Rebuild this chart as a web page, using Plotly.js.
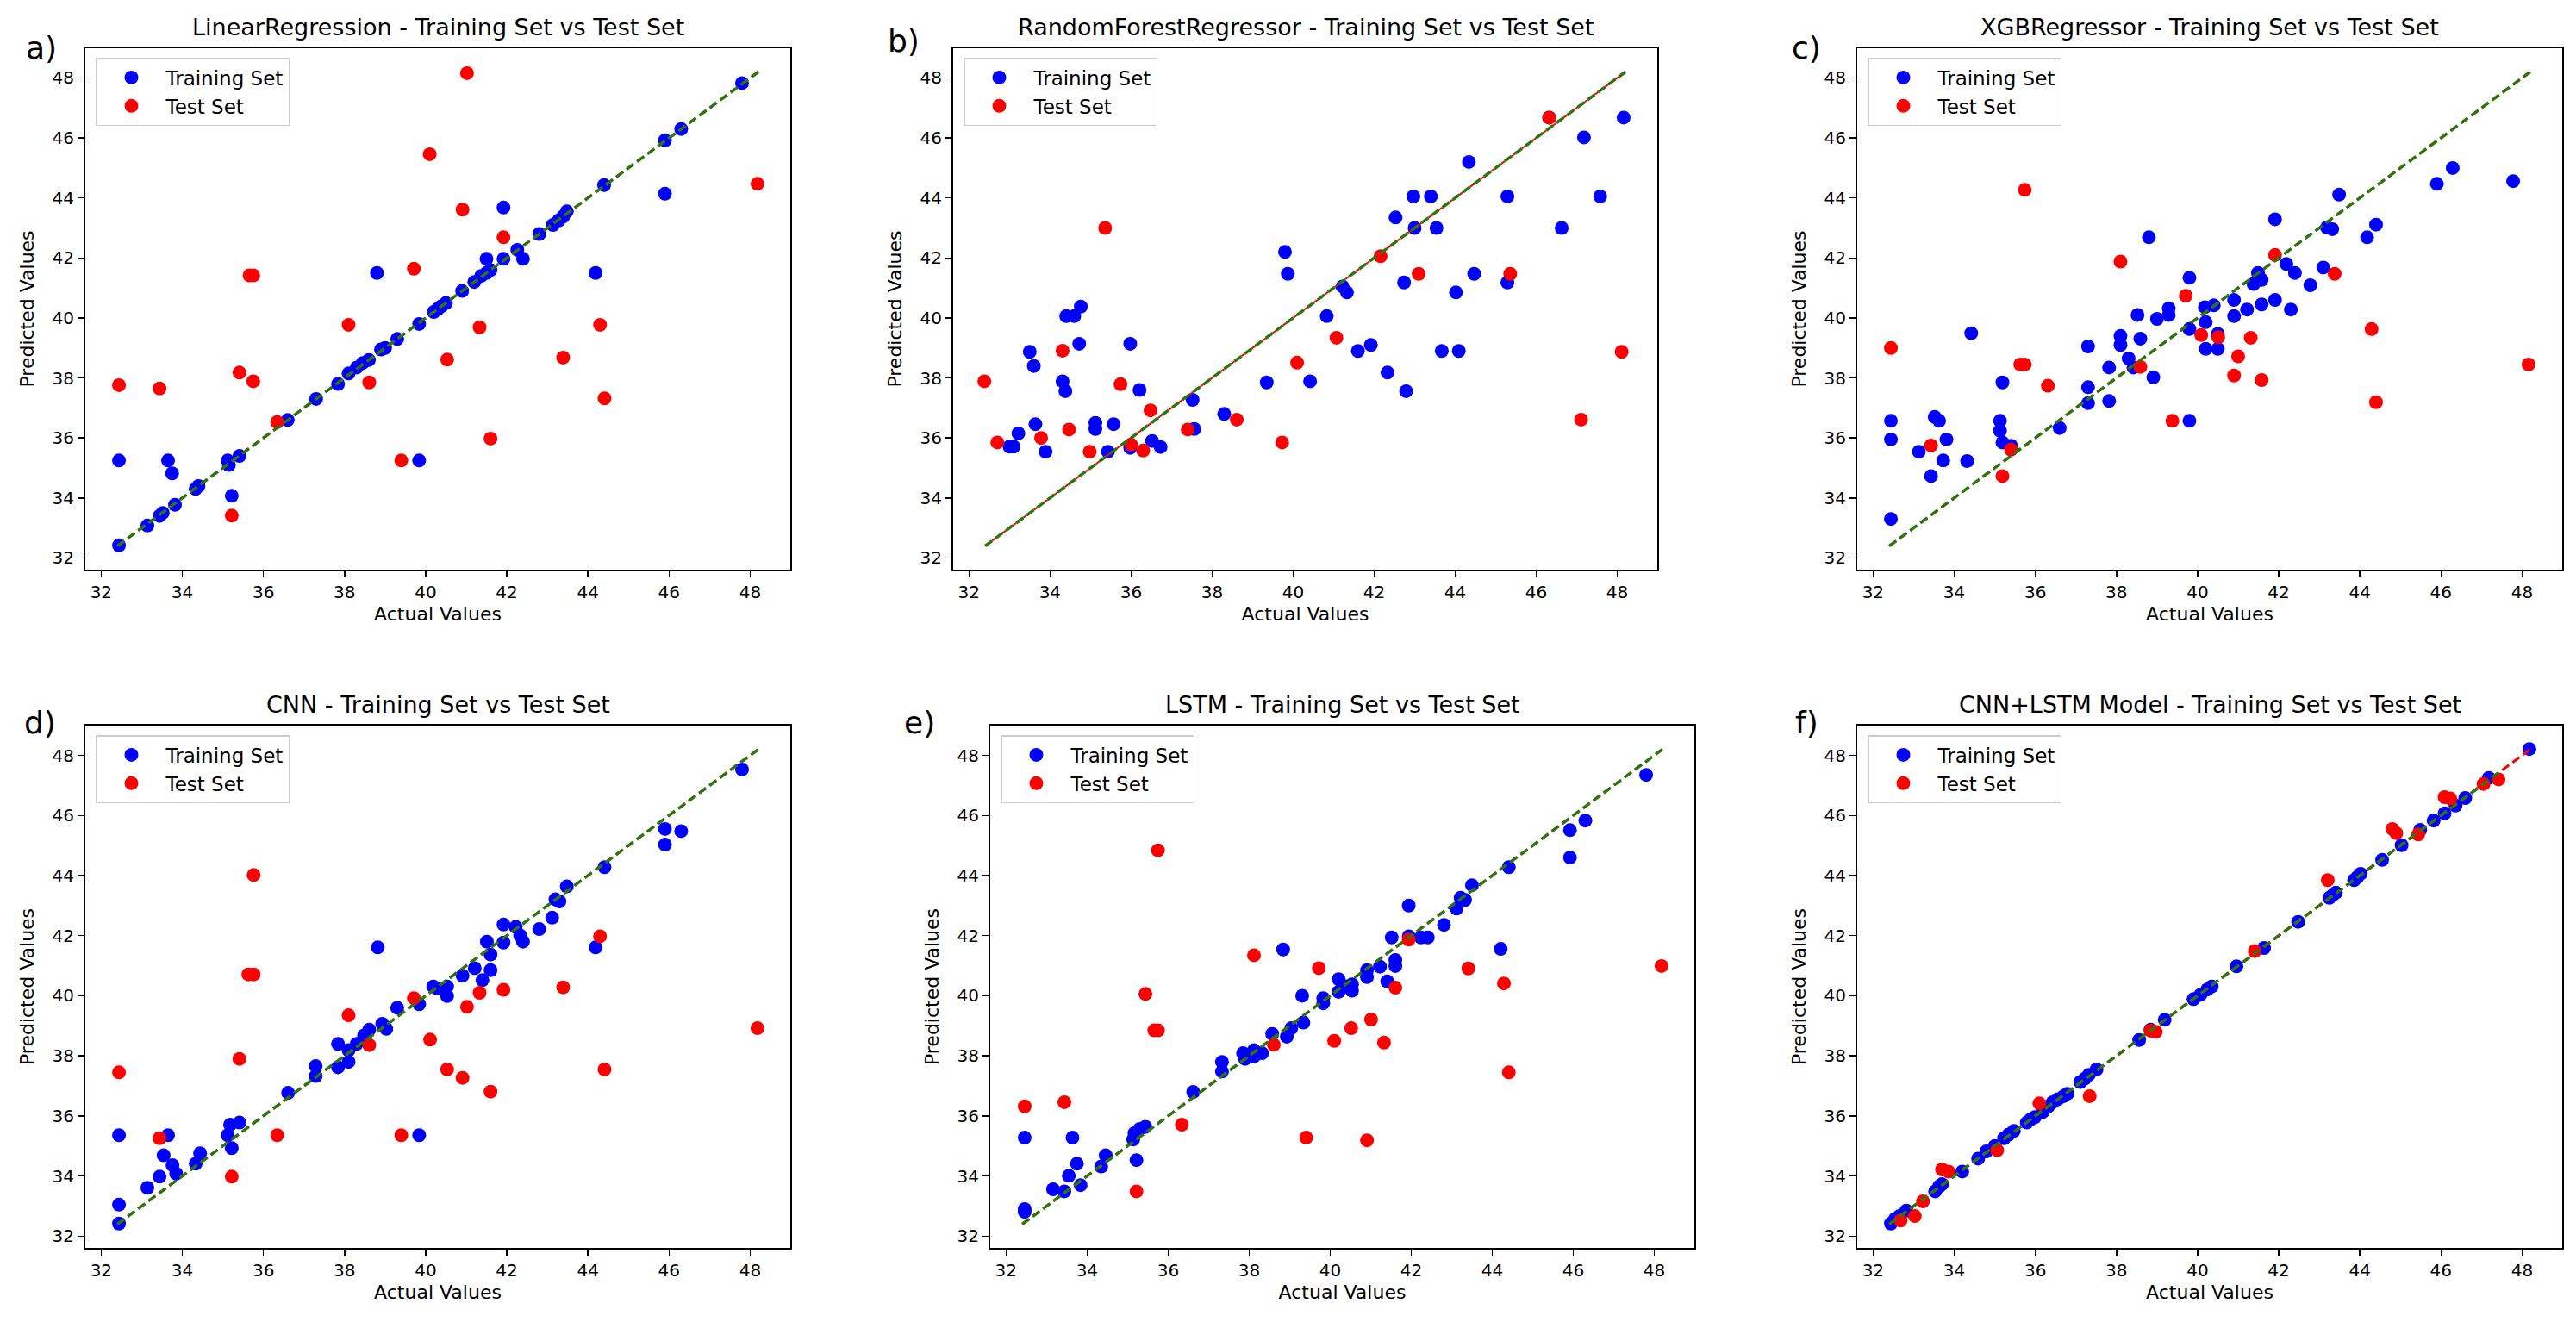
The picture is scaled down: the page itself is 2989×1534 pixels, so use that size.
<!DOCTYPE html>
<html>
<head>
<meta charset="utf-8">
<script src="https://cdn.plot.ly/plotly-3.0.1.min.js"></script>
<style>
  html, body { margin: 0; padding: 0; background: #fff; }
  #chart { width: 2989px; height: 1534px; }
</style>
</head>
<body>
<div id="chart"></div>
<script>
// ---- data (actual vs predicted) ----

// a) LinearRegression
const lr_train_actual = [32.44,32.44,33.14,33.44,33.52,33.65,33.75,33.82,34.33,34.40,35.12,35.15,35.22,35.41,36.60,37.30,37.84,38.10,38.30,38.45,38.60,38.80,38.90,39.00,39.30,39.84,39.84,40.20,40.30,40.40,40.50,40.90,41.20,41.37,41.50,41.60,41.50,41.92,41.92,42.26,42.40,42.80,43.14,43.28,43.39,43.48,44.19,44.40,45.90,45.90,46.30,47.80];
const lr_train_pred   = [32.42,35.25,33.08,33.40,33.50,35.25,34.82,33.77,34.30,34.40,35.25,35.10,34.07,35.40,36.60,37.30,37.80,38.15,38.35,38.50,38.60,41.50,38.95,39.00,39.30,39.80,35.25,40.20,40.30,40.40,40.50,40.90,41.20,41.40,41.50,41.60,41.97,43.68,41.97,42.27,41.97,42.80,43.10,43.25,43.38,43.55,41.50,44.43,44.14,45.92,46.30,47.83];
const lr_test_actual  = [32.44,33.44,35.22,35.41,35.66,35.75,35.75,36.34,38.10,38.61,39.40,39.71,40.10,40.53,40.91,41.02,41.33,41.60,41.92,43.39,44.30,44.41,48.18];
const lr_test_pred    = [37.76,37.65,33.41,38.18,41.42,41.42,37.89,36.53,39.77,37.85,35.25,41.64,45.46,38.61,43.61,48.16,39.69,35.98,42.69,38.68,39.77,37.32,44.47];

// b) RandomForestRegressor
const rf_train_actual = [33.00,33.10,33.22,33.50,33.64,33.60,33.89,34.31,34.38,34.40,34.60,34.76,34.72,35.12,35.12,35.43,35.57,35.98,35.98,36.21,36.52,36.73,37.52,37.56,38.30,39.35,39.80,39.87,40.42,40.83,41.22,41.33,41.60,41.92,42.33,42.53,42.74,42.79,42.97,43.00,43.40,43.54,43.67,44.02,44.09,44.34,44.47,45.29,45.29,46.32,46.63,47.18,47.58,48.16];
const rf_train_pred   = [35.71,35.71,36.15,38.87,36.46,38.40,35.54,37.89,37.56,40.06,40.06,40.38,39.14,36.50,36.30,35.54,36.46,35.67,39.14,37.60,35.90,35.70,37.27,36.30,36.80,37.85,42.20,41.47,37.89,40.06,41.05,40.85,38.90,39.10,38.18,43.35,41.18,37.56,44.05,43.00,44.05,43.00,38.90,40.85,38.90,45.20,41.47,44.05,41.18,46.68,43.00,46.02,44.05,46.68];
const rf_test_actual  = [32.38,32.70,33.78,34.31,34.47,34.98,35.36,35.74,36.00,36.30,36.48,37.40,38.61,39.73,40.10,41.07,42.16,43.10,45.36,46.32,47.11,48.11];
const rf_test_pred    = [37.89,35.85,36.00,38.91,36.28,35.54,43.00,37.79,35.78,35.58,36.92,36.28,36.61,35.85,38.51,39.34,42.06,41.47,41.47,46.68,36.61,38.87];

// c) XGBRegressor
const xgb_train_actual = [32.44,32.44,32.44,33.13,33.43,33.52,33.63,33.73,33.81,34.32,34.42,35.13,35.13,35.19,35.19,35.40,36.60,37.30,37.30,37.30,37.82,37.82,38.10,38.10,38.30,38.42,38.52,38.59,38.80,38.91,39.00,39.29,39.29,39.80,39.80,39.80,40.18,40.40,40.20,40.20,40.50,40.50,40.90,40.90,41.22,41.38,41.49,41.58,41.58,41.91,41.91,42.19,42.30,42.40,42.78,43.10,43.19,43.32,43.49,44.18,44.40,45.90,46.29,47.78];
const xgb_train_pred   = [33.30,36.57,35.95,35.54,34.73,36.70,36.57,35.25,35.95,35.23,39.49,36.57,36.24,37.85,35.85,35.74,36.33,39.05,37.69,37.16,38.35,37.23,39.40,39.10,38.65,38.35,40.10,39.31,42.69,38.02,39.97,40.32,40.10,41.34,39.63,36.57,40.36,40.42,39.86,38.97,38.97,39.47,40.60,40.06,40.28,41.13,41.50,41.27,40.45,43.29,40.60,41.80,40.28,41.50,41.09,41.68,43.02,42.96,44.11,42.69,43.11,44.47,45.00,44.56];
const xgb_test_actual  = [32.44,33.43,35.19,35.40,35.63,35.74,35.74,36.31,38.10,38.59,39.38,39.71,40.09,40.51,40.90,41.00,41.31,41.58,41.91,43.38,44.29,44.40,48.16];
const xgb_test_pred    = [39.00,35.75,34.73,35.61,38.45,38.45,44.27,37.74,41.88,38.37,36.57,40.74,39.43,39.36,38.08,38.72,39.34,37.93,42.10,41.47,39.63,37.19,38.45];

// d) CNN
const cnn_train_actual = [32.44,32.44,32.44,33.14,33.44,33.54,33.65,33.76,33.85,34.33,34.44,35.12,35.18,35.22,35.41,36.61,37.29,37.29,37.84,37.84,38.10,38.10,38.30,38.48,38.61,38.82,38.93,39.03,39.30,39.84,39.84,40.19,40.29,40.53,40.53,40.91,41.21,41.40,41.51,41.60,41.60,41.92,41.92,42.22,42.33,42.40,42.80,43.12,43.20,43.30,43.48,44.19,44.41,45.90,45.90,46.30,47.80];
const cnn_train_pred   = [32.42,33.05,35.36,33.61,33.98,34.69,35.36,34.36,34.08,34.41,34.76,35.36,35.71,34.93,35.78,36.77,37.66,37.33,38.40,37.62,37.80,38.19,38.40,38.68,38.87,41.61,39.07,38.90,39.60,39.72,35.36,40.31,40.24,40.31,39.99,40.67,40.92,40.52,41.80,41.37,40.85,42.37,41.77,42.29,42.01,41.80,42.22,42.60,43.21,43.14,43.64,41.61,44.28,45.55,45.03,45.48,47.53];
const cnn_test_actual  = [32.44,33.44,35.22,35.41,35.63,35.76,35.76,36.34,38.10,38.61,39.40,39.71,40.11,40.53,40.91,41.02,41.33,41.60,41.92,43.39,44.30,44.41,48.18];
const cnn_test_pred    = [37.45,35.26,33.98,37.90,40.71,40.71,44.02,35.36,39.35,38.36,35.36,39.92,38.54,37.55,37.27,39.63,40.10,36.81,40.20,40.28,41.98,37.55,38.92];

// e) LSTM
const lstm_train_actual = [32.46,32.46,32.46,33.16,33.44,33.55,33.64,33.75,33.84,34.35,34.46,35.14,35.17,35.22,35.30,35.44,36.62,37.33,37.33,37.85,37.90,38.12,38.12,38.32,38.57,38.84,38.93,39.04,39.31,39.34,39.83,39.83,40.21,40.21,40.40,40.54,40.54,40.91,40.91,41.23,41.41,41.52,41.61,41.61,41.94,41.94,42.24,42.41,42.81,43.12,43.22,43.33,43.50,44.21,44.41,45.92,45.92,46.30,47.80];
const lstm_train_pred   = [32.81,32.90,35.28,33.56,33.49,34.01,35.28,34.41,33.70,34.32,34.69,35.22,35.43,34.53,35.57,35.64,36.80,37.80,37.48,38.09,37.90,38.19,37.98,38.09,38.73,41.54,38.64,38.92,40.00,39.11,39.92,39.75,40.55,40.13,40.31,40.38,40.17,40.85,40.62,40.97,40.48,41.94,41.19,40.99,43.00,41.98,41.94,41.94,42.36,42.90,43.26,43.19,43.68,41.56,44.28,45.51,44.60,45.83,47.35];
const lstm_test_actual  = [32.46,33.44,35.22,35.44,35.66,35.75,35.75,36.34,38.12,38.61,39.41,39.72,40.10,40.52,40.91,41.01,41.33,41.61,41.94,43.41,44.29,44.41,48.18];
const lstm_test_pred    = [36.32,36.46,33.49,40.06,38.85,38.85,44.84,35.71,41.35,38.37,35.28,40.92,38.50,38.92,35.19,39.21,38.44,40.27,41.87,40.91,40.41,37.45,40.99];

// f) CNN+LSTM
const hyb_train_actual = [32.44,32.54,32.65,32.82,33.53,33.63,33.70,34.20,34.59,34.79,35.00,35.23,35.34,35.47,35.79,35.88,35.99,36.18,36.32,36.43,36.56,36.70,36.79,37.11,37.22,37.32,37.51,38.56,38.84,39.19,39.90,40.07,40.24,40.35,40.96,41.64,42.48,43.25,43.34,43.41,43.86,43.94,44.02,44.55,45.03,45.49,45.82,46.09,46.36,46.60,47.18,48.18];
const hyb_train_pred   = [32.42,32.57,32.67,32.85,33.49,33.66,33.73,34.15,34.58,34.82,35.00,35.26,35.38,35.50,35.78,35.88,35.96,36.13,36.32,36.46,36.56,36.66,36.74,37.13,37.24,37.37,37.55,38.53,38.87,39.20,39.89,40.03,40.21,40.31,40.98,41.59,42.46,43.26,43.36,43.43,43.85,43.95,44.06,44.52,45.01,45.52,45.83,46.07,46.33,46.58,47.25,48.21];
const hyb_test_actual  = [32.68,33.03,33.23,33.70,33.86,35.06,36.10,37.34,38.84,38.97,41.41,43.21,44.80,44.90,45.44,46.09,46.23,47.05,47.42];
const hyb_test_pred    = [32.52,32.67,33.16,34.22,34.15,34.86,36.42,36.66,38.84,38.80,41.49,43.85,45.55,45.41,45.37,46.61,46.57,47.05,47.20];

// y = x reference lines
const ref_line = [32.4, 48.2];
const hyb_green_line = [32.4, 47.45];

const tick_values = [32, 34, 36, 38, 40, 42, 44, 46, 48];
const axis_range = [31.61, 48.99];

// ---- figure layout (pixels of the 2989x1534 page) ----
const FIG_W = 2989, FIG_H = 1534;
const FONT = 'DejaVu Sans, Verdana, sans-serif';
const BLUE = '#0000ff', RED = '#ff0000', GREEN = '#2e7512';
const GREEN_DASH = '10px,5px';

const PANELS = [
  {tag: 'a)', title: 'LinearRegression - Training Set vs Test Set',
   train: [lr_train_actual, lr_train_pred], test: [lr_test_actual, lr_test_pred],
   green: ref_line, red_dash: GREEN_DASH, red_width: 2.5,
   box: [99, 917, 56, 661], tag_at: [48, 55], title_y: 31},
  {tag: 'b)', title: 'RandomForestRegressor - Training Set vs Test Set',
   train: [rf_train_actual, rf_train_pred], test: [rf_test_actual, rf_test_pred],
   green: ref_line, red_dash: '0px,10px,5px,0px', red_width: 2,
   box: [1106, 1923, 56, 661], tag_at: [1048, 47], title_y: 31},
  {tag: 'c)', title: 'XGBRegressor - Training Set vs Test Set',
   train: [xgb_train_actual, xgb_train_pred], test: [xgb_test_actual, xgb_test_pred],
   green: ref_line, red_dash: GREEN_DASH, red_width: 2.5,
   box: [2155, 2973, 56, 661], tag_at: [2096, 55], title_y: 31},
  {tag: 'd)', title: 'CNN - Training Set vs Test Set',
   train: [cnn_train_actual, cnn_train_pred], test: [cnn_test_actual, cnn_test_pred],
   green: ref_line, red_dash: GREEN_DASH, red_width: 2.5,
   box: [99, 917, 842, 1448], tag_at: [46, 839], title_y: 817},
  {tag: 'e)', title: 'LSTM - Training Set vs Test Set',
   train: [lstm_train_actual, lstm_train_pred], test: [lstm_test_actual, lstm_test_pred],
   green: ref_line, red_dash: GREEN_DASH, red_width: 2.5,
   box: [1149, 1966, 842, 1448], tag_at: [1067, 839], title_y: 817},
  {tag: 'f)', title: 'CNN+LSTM Model - Training Set vs Test Set',
   train: [hyb_train_actual, hyb_train_pred], test: [hyb_test_actual, hyb_test_pred],
   green: hyb_green_line, red_dash: GREEN_DASH, red_width: 3,
   box: [2155, 2973, 842, 1448], tag_at: [2096, 838], title_y: 817},
];

function px_x(x) { return x / FIG_W; }
function px_y(y) { return 1 - y / FIG_H; }

let traces = [];
let annotations = [];
let layout = {
  width: FIG_W,
  height: FIG_H,
  margin: {l: 0, r: 0, t: 0, b: 0, pad: 0},
  paper_bgcolor: '#ffffff',
  plot_bgcolor: '#ffffff',
  font: {family: FONT, color: '#000000', size: 20},
  hovermode: false,
  showlegend: true,
};

PANELS.forEach((p, i) => {
  const n = i === 0 ? '' : String(i + 1);
  const xa = 'x' + n, ya = 'y' + n, leg = 'legend' + n;
  const [left, right, top, bottom] = p.box;

  traces.push({
    type: 'scatter', mode: 'markers', name: 'Training Set',
    x: p.train[0], y: p.train[1], xaxis: xa, yaxis: ya, legend: leg,
    marker: {color: BLUE, size: 16, line: {width: 0}},
  });
  traces.push({
    type: 'scatter', mode: 'markers', name: 'Test Set',
    x: p.test[0], y: p.test[1], xaxis: xa, yaxis: ya, legend: leg,
    marker: {color: RED, size: 16, line: {width: 0}},
  });
  traces.push({
    type: 'scatter', mode: 'lines', showlegend: false,
    x: ref_line, y: ref_line, xaxis: xa, yaxis: ya,
    line: {color: RED, width: p.red_width, dash: p.red_dash},
  });
  traces.push({
    type: 'scatter', mode: 'lines', showlegend: false,
    x: p.green, y: p.green, xaxis: xa, yaxis: ya,
    line: {color: GREEN, width: 3.5, dash: GREEN_DASH},
  });

  const common_axis = {
    range: axis_range,
    tickmode: 'array',
    tickvals: tick_values,
    ticks: 'outside',
    ticklen: 7,
    tickwidth: 1.5,
    tickcolor: '#000',
    tickfont: {size: 20, color: '#000'},
    showline: true,
    mirror: true,
    linecolor: '#000',
    linewidth: 2,
    showgrid: false,
    zeroline: false,
    automargin: false,
    fixedrange: true,
  };

  layout['xaxis' + n] = {
    ...common_axis,
    domain: [px_x(left), px_x(right)],
    anchor: ya,
    title: {text: 'Actual Values', font: {size: 22}, standoff: 7},
  };
  layout['yaxis' + n] = {
    ...common_axis,
    domain: [px_y(bottom), px_y(top)],
    anchor: xa,
    title: {text: 'Predicted Values', font: {size: 22}, standoff: 15},
  };

  layout[leg] = {
    x: px_x(left + 12),
    y: px_y(top + 11),
    xanchor: 'left',
    yanchor: 'top',
    bgcolor: '#ffffff',
    bordercolor: '#cccccc',
    borderwidth: 1.5,
    font: {size: 23, color: '#000'},
    itemwidth: 70,
  };

  annotations.push({
    xref: 'paper', yref: 'paper',
    x: px_x((left + right) / 2), y: px_y(p.title_y),
    xanchor: 'center', yanchor: 'middle',
    text: p.title, showarrow: false,
    font: {size: 27, color: '#000'},
  });
  annotations.push({
    xref: 'paper', yref: 'paper',
    x: px_x(p.tag_at[0]), y: px_y(p.tag_at[1]),
    xanchor: 'center', yanchor: 'middle',
    text: p.tag, showarrow: false,
    font: {size: 36, color: '#000'},
  });
});

layout.annotations = annotations;

Plotly.newPlot('chart', traces, layout, {displayModeBar: false, staticPlot: true});
</script>
</body>
</html>
